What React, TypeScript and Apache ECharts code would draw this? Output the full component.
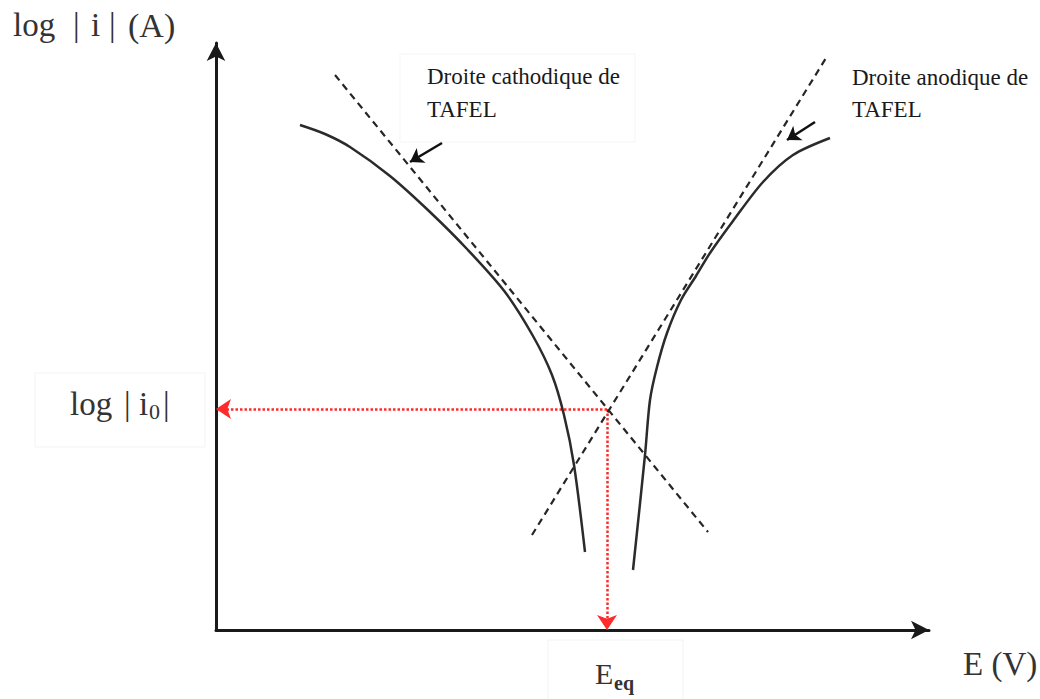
import React, { useEffect, useRef } from "react";
import * as echarts from "echarts";

// Polarisation curve branches (E in arbitrary units, log|i| in arbitrary units)
const cathodicE = [0.84, 1.09, 1.34, 1.74, 2.14, 2.51, 2.89, 3.17, 3.36, 3.48, 3.58, 3.69];
const cathodicLogI = [5.05, 4.96, 4.83, 4.54, 4.18, 3.81, 3.38, 2.94, 2.55, 2.15, 1.65, 0.78];
const anodicE = [4.17, 4.29, 4.34, 4.41, 4.51, 4.65, 4.8, 4.94, 5.17, 5.47, 5.77, 6.14];
const anodicLogI = [0.6, 1.75, 2.3, 2.63, 2.97, 3.3, 3.54, 3.77, 4.09, 4.48, 4.75, 4.92];

// Tafel straight lines (end points)
const cathodicTafelE = [1.19, 4.92];
const cathodicTafelLogI = [5.55, 0.98];
const anodicTafelE = [3.16, 6.1];
const anodicTafelLogI = [0.95, 5.72];

// Equilibrium point
const eEq = 3.91;
const logI0 = 2.21;

// Pointer arrows towards the Tafel lines: [from, to]
const cathodicPointer = [[2.26, 4.87], [1.94, 4.68]];
const anodicPointer = [[5.99, 5.08], [5.71, 4.9]];

const pairs = (xs: number[], ys: number[]) => xs.map((x, i) => [x, ys[i]]);

export default function App() {
  const ref = useRef<HTMLDivElement>(null);

  useEffect(() => {
    if (!ref.current) return;
    const chart = echarts.init(ref.current, null, { renderer: "svg" });
    const serif = "Liberation Serif";
    const ink = "#2b2b2b";
    const labelInk = "#333";

    const axisLine = {
      show: true,
      symbol: ["none", "arrow"],
      symbolSize: [14, 18],
      lineStyle: { color: "#1a1a1a", width: 3 },
    };

    const txt = (text: string, x: number, y: number, font: string, fill = labelInk) => ({
      type: "text",
      x,
      y,
      silent: true,
      style: { text, font, fill, verticalAlign: "middle" },
    });

    const big = `33px "${serif}"`;
    const note = `23px "${serif}"`;

    chart.setOption({
      animation: false,
      backgroundColor: "#ffffff",
      grid: { left: 216, top: 43, width: 713, height: 587 },
      xAxis: {
        type: "value",
        min: 0,
        max: 7.13,
        axisLine,
        axisTick: { show: false },
        axisLabel: { show: false },
        splitLine: { show: false },
      },
      yAxis: {
        type: "value",
        min: 0,
        max: 5.87,
        axisLine,
        axisTick: { show: false },
        axisLabel: { show: false },
        splitLine: { show: false },
      },
      series: [
        {
          type: "line",
          data: pairs(cathodicE, cathodicLogI),
          smooth: 0.3,
          showSymbol: false,
          lineStyle: { color: ink, width: 2.5 },
        },
        {
          type: "line",
          data: pairs(anodicE, anodicLogI),
          smooth: 0.3,
          showSymbol: false,
          lineStyle: { color: ink, width: 2.5 },
        },
        {
          type: "line",
          data: pairs(cathodicTafelE, cathodicTafelLogI),
          showSymbol: false,
          lineStyle: { color: "#262626", width: 2.2, type: [7, 5] },
        },
        {
          type: "line",
          data: pairs(anodicTafelE, anodicTafelLogI),
          showSymbol: false,
          lineStyle: { color: "#262626", width: 2.2, type: [7, 5] },
        },
        {
          type: "lines",
          coordinateSystem: "cartesian2d",
          symbol: ["none", "arrow"],
          symbolSize: 15,
          lineStyle: { color: "#ff2a2a", width: 2.5, type: [2.5, 2], opacity: 1 },
          data: [
            { coords: [[eEq, logI0], [0, logI0]] },
            { coords: [[eEq, logI0], [eEq, 0]] },
          ],
        },
        {
          type: "lines",
          coordinateSystem: "cartesian2d",
          symbol: ["none", "arrow"],
          symbolSize: 13,
          lineStyle: { color: "#111", width: 2.5, opacity: 1 },
          data: [{ coords: cathodicPointer }, { coords: anodicPointer }],
        },
      ],
      graphic: [
        {
          type: "rect",
          silent: true,
          shape: { x: 35, y: 373, width: 170, height: 74 },
          style: { fill: "none", stroke: "#f3f3f3", lineWidth: 1 },
        },
        {
          type: "rect",
          silent: true,
          shape: { x: 548, y: 640, width: 135, height: 70 },
          style: { fill: "none", stroke: "#f3f3f3", lineWidth: 1 },
        },
        {
          type: "rect",
          silent: true,
          shape: { x: 400, y: 54, width: 235, height: 88 },
          style: { fill: "none", stroke: "#f5f5f5", lineWidth: 1 },
        },
        // y-axis title: log | i | (A)
        txt("log", 13, 25, big),
        txt("|", 73, 25, big),
        txt("i", 91, 25, big),
        txt("|", 109, 25, big),
        txt("(A)", 128, 25, `34px "${serif}"`),
        // Tafel line notes
        txt("Droite cathodique de", 427, 76, note, "#1a1a1a"),
        txt("TAFEL", 427, 109, note, "#1a1a1a"),
        txt("Droite anodique de", 852, 77, note, "#1a1a1a"),
        txt("TAFEL", 852, 109, note, "#1a1a1a"),
        // log | i0 |
        txt("log", 70, 404, big),
        txt("|", 124, 404, big),
        txt("i", 139, 404, big),
        txt("0", 149, 411, `22px "${serif}"`),
        txt("|", 163, 404, big),
        // E_eq
        txt("E", 595, 673, `30px "${serif}"`),
        txt("eq", 614, 683, `bold 20px "${serif}"`),
        // x-axis title
        txt("E (V)", 963, 664, big),
      ],
    });

    return () => chart.dispose();
  }, []);

  return (
    <div
      ref={ref}
      style={{ position: "absolute", left: 0, top: 0, width: 1040, height: 699, background: "#fff" }}
    />
  );
}
